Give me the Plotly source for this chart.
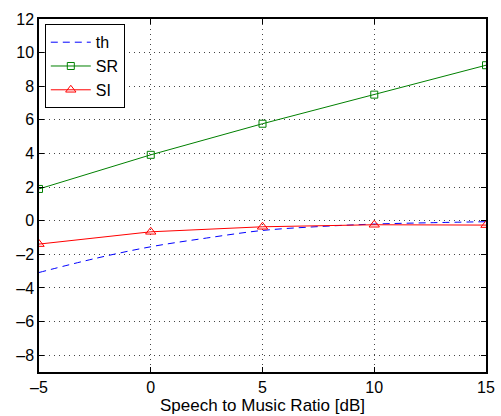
import plotly.graph_objects as go

# Data
x_pts = [-5, 0, 5, 10, 15]
sr_vals = [1.89, 3.92, 5.77, 7.50, 9.25]
si_vals = [-1.39, -0.66, -0.36, -0.24, -0.26]
th_x = [-5, -2.5, 0, 2.5, 5, 7.5, 10, 12.5, 15]
th_vals = [-3.08, -2.25, -1.55, -1.03, -0.58, -0.35, -0.20, -0.12, -0.06]

x_ticks = [-5, 0, 5, 10, 15]
y_ticks = [-8, -6, -4, -2, 0, 2, 4, 6, 8, 10, 12]

fig = go.Figure()
fig.add_trace(go.Scatter(x=th_x, y=th_vals, name="th", mode="lines",
                         line=dict(color="#0000ff", width=1, dash="7px,5px", shape="spline")))
fig.add_trace(go.Scatter(x=x_pts, y=sr_vals, name="SR", mode="lines+markers",
                         line=dict(color="#008000", width=1),
                         marker=dict(symbol="square-open", size=7, color="#008000", line=dict(width=1))))
fig.add_trace(go.Scatter(x=x_pts, y=si_vals, name="SI", mode="lines+markers",
                         line=dict(color="#ff0000", width=1),
                         marker=dict(symbol="triangle-up-open", size=9, color="#ff0000", line=dict(width=1))))

axis_common = dict(showline=True, linecolor="black", linewidth=1.5, mirror="ticks",
                   ticks="inside", ticklen=5, tickcolor="black",
                   showgrid=True, gridcolor="#444444", griddash="1px,4px", gridwidth=1,
                   zeroline=False, automargin=False,
                   tickfont=dict(family="Liberation Sans, Arial", size=16, color="black"))

def lab(v):
    return "\u2013" + str(-v) if v < 0 else str(v)

fig.update_layout(
    width=501, height=416,
    margin=dict(l=39, r=15, t=19, b=44),
    paper_bgcolor="white", plot_bgcolor="white",
    font=dict(family="Liberation Sans, Arial", size=16, color="black"),
    xaxis=dict(range=[-5, 15], tickvals=x_ticks, ticktext=[lab(v) for v in x_ticks],
               title=dict(text="Speech to Music Ratio [dB]", font=dict(size=17), standoff=0), **axis_common),
    yaxis=dict(range=[-9, 12], tickvals=y_ticks, ticktext=[lab(v) for v in y_ticks],
               **axis_common),
    legend=dict(x=0.013, y=0.985, xanchor="left", yanchor="top", bgcolor="white",
                bordercolor="black", borderwidth=1, font=dict(size=16),
                tracegroupgap=0, itemwidth=40),
    showlegend=True,
)

fig.write_html("out.html")
